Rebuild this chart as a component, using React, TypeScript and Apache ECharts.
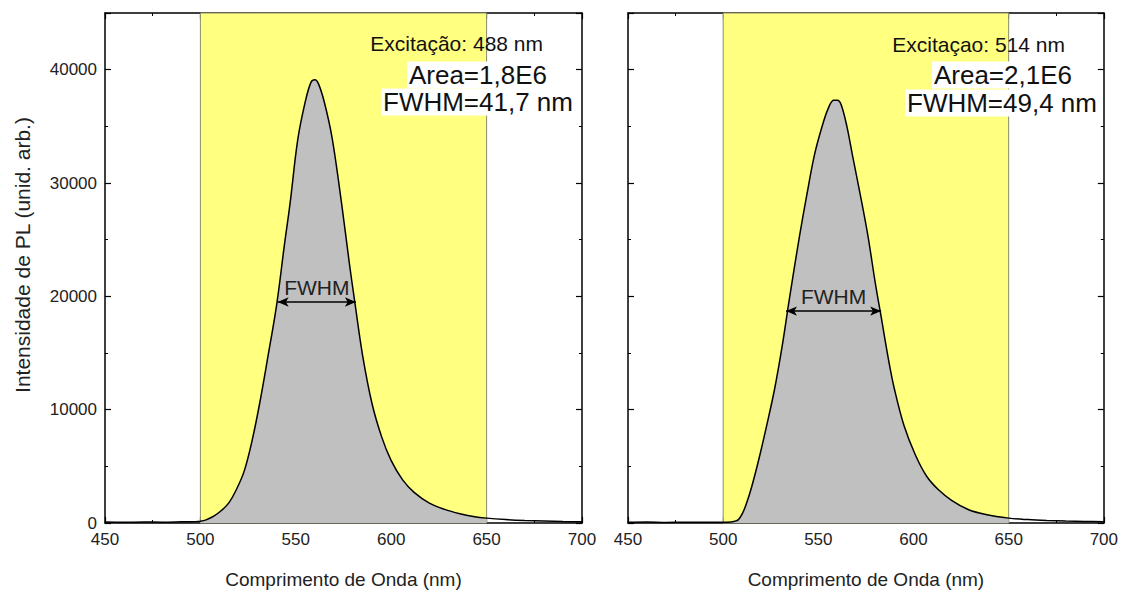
import React, { useEffect, useRef } from "react";
import * as echarts from "echarts";

// ---- Data ----
const wl488 = [450, 460, 470, 480, 490, 498, 500, 503, 507, 511, 515, 519, 523, 527, 531, 535, 540, 544, 547, 551, 555, 558, 560, 562, 565, 569, 574, 578, 581, 585, 590, 595, 600, 606, 612, 620, 628, 636, 643, 650, 660, 670, 680, 690, 700];
const pl488 = [80, 60, 90, 70, 100, 130, 150, 280, 600, 1100, 1800, 3000, 4600, 7200, 10500, 14300, 19300, 24500, 28200, 33800, 37200, 38900, 39100, 38700, 37100, 34000, 28200, 23000, 19400, 14800, 10500, 7600, 5500, 3800, 2700, 1750, 1200, 820, 580, 430, 300, 220, 170, 130, 110];

const wl514 = [450, 460, 470, 480, 490, 500, 504, 506, 508, 510, 512, 515, 519, 523, 527, 531, 535, 540, 544, 548, 552, 555, 558, 560, 562, 565, 568, 572, 576, 580, 583, 587, 590, 595, 601, 607, 613, 620, 629, 638, 650, 660, 670, 680, 690, 700];
const pl514 = [60, 80, 50, 70, 60, 70, 90, 150, 300, 800, 1600, 3200, 5800, 8700, 11800, 15600, 20000, 25200, 29000, 32500, 35000, 36500, 37300, 37300, 36900, 35000, 32400, 29000, 25400, 21100, 18200, 14300, 11800, 8600, 6000, 4100, 2950, 2000, 1170, 750, 430, 300, 220, 170, 140, 110];

const xTicks = [450, 500, 550, 600, 650, 700];
const integrationRange = [500, 650];
const fwhm488 = [540.5, 581.5, 19500];
const fwhm514 = [533, 583, 18700];

const texts488 = ["Excitação: 488 nm", "Area=1,8E6", "FWHM=41,7 nm"];
const texts514 = ["Excitaçao: 514 nm", "Area=2,1E6", "FWHM=49,4 nm"];
const xTitle = "Comprimento de Onda (nm)";
const yTitle = "Intensidade de PL (unid. arb.)";

const FONT = "'Liberation Sans', Arial, sans-serif";

export default function App() {
  const ref = useRef<HTMLDivElement>(null);

  useEffect(() => {
    if (!ref.current) return;
    const chart = echarts.init(ref.current, null, { renderer: "svg" });

    const grids = [
      { left: 105, top: 13, width: 477, bottom: 75 },
      { left: 628, top: 13, width: 477, bottom: 75 },
    ];

    const mkX = (gi: number, top: boolean) => ({
      type: "value",
      gridIndex: gi,
      position: top ? "top" : "bottom",
      min: xTicks[0],
      max: xTicks[xTicks.length - 1],
      interval: 50,
      name: top ? "" : xTitle,
      nameLocation: "middle",
      nameGap: 47,
      nameTextStyle: { fontFamily: FONT, fontSize: 19, color: "#222" },
      axisLine: { show: true, onZero: false, lineStyle: { color: "#000", width: 1.5 } },
      axisTick: { show: true, inside: true, length: 6, lineStyle: { color: "#000", width: 1.2 } },
      minorTick: { show: true, splitNumber: 2, length: 3, lineStyle: { color: "#000", width: 1 } },
      axisLabel: { show: !top, margin: 8, fontFamily: FONT, fontSize: 17, color: "#222", formatter: (v: number) => String(v) },
      splitLine: { show: false },
    });

    const mkY = (gi: number, right: boolean, labels: boolean) => ({
      type: "value",
      gridIndex: gi,
      position: right ? "right" : "left",
      min: 0,
      max: 45000,
      interval: 10000,
      axisLine: { show: true, onZero: false, lineStyle: { color: "#000", width: 1.5 } },
      axisTick: { show: true, inside: true, length: 6, lineStyle: { color: "#000", width: 1.2 } },
      minorTick: { show: true, splitNumber: 2, length: 3, lineStyle: { color: "#000", width: 1 } },
      axisLabel: {
        show: labels,
        showMaxLabel: false,
        margin: 8,
        fontFamily: FONT,
        fontSize: 17,
        color: "#222",
        formatter: (v: number) => String(v),
      },
      splitLine: { show: false },
    });

    const pairs = (xs: number[], ys: number[]) => xs.map((x, i) => [x, ys[i]]);
    const inRange = (xs: number[], ys: number[]) =>
      pairs(xs, ys).filter((p) => p[0] >= integrationRange[0] && p[0] <= integrationRange[1]);

    const mkSeries = (gi: number, xs: number[], ys: number[], fw: number[]) => [
      {
        type: "line",
        xAxisIndex: gi * 2,
        yAxisIndex: gi * 2,
        data: inRange(xs, ys),
        smooth: 0.35,
        showSymbol: false,
        lineStyle: { width: 0 },
        areaStyle: { color: "#C0C0C0", opacity: 1 },
        z: 2,
        markArea: {
          silent: true,
          z: 1,
          itemStyle: { color: "#FFFF80", opacity: 1, borderColor: "#8c8c6a", borderWidth: 1 },
          data: [[{ xAxis: integrationRange[0] }, { xAxis: integrationRange[1] }]],
        },
      },
      {
        type: "line",
        xAxisIndex: gi * 2,
        yAxisIndex: gi * 2,
        data: pairs(xs, ys),
        smooth: 0.35,
        showSymbol: false,
        lineStyle: { color: "#000", width: 1.5 },
        z: 3,
        markLine: {
          silent: true,
          symbol: ["arrow", "arrow"],
          symbolSize: [7, 11],
          lineStyle: { color: "#000", width: 1.5, type: "solid" },
          label: {
            show: true,
            position: "insideMiddleTop",
            formatter: "FWHM",
            distance: 4,
            fontFamily: FONT,
            fontSize: 21,
            color: "#222",
          },
          data: [[{ coord: [fw[0], fw[2]] }, { coord: [fw[1], fw[2]] }]],
        },
      },
    ];

    const mkText = (x: number, y: number, text: string, size: number, bg: boolean) => ({
      type: "text",
      x,
      y,
      z: 10,
      style: {
        text,
        fontFamily: FONT,
        fontSize: size,
        fill: "#111",
        align: "right",
        verticalAlign: "middle",
        backgroundColor: bg ? "#fff" : undefined,
        padding: bg ? [1, 2, 0, 2] : 0,
      },
    });

    chart.setOption({
      animation: false,
      backgroundColor: "#fff",
      grid: grids,
      xAxis: [mkX(0, false), mkX(0, true), mkX(1, false), mkX(1, true)],
      yAxis: [mkY(0, false, true), mkY(0, true, false), mkY(1, false, false), mkY(1, true, false)],
      series: [...mkSeries(0, wl488, pl488, fwhm488), ...mkSeries(1, wl514, pl514, fwhm514)],
      graphic: [
        {
          type: "text",
          x: 22,
          y: 255,
          rotation: Math.PI / 2,
          style: {
            text: yTitle,
            fontFamily: FONT,
            fontSize: 21,
            fill: "#222",
            align: "center",
            verticalAlign: "middle",
          },
        },
        mkText(543, 43, texts488[0], 21, false),
        mkText(549, 75, texts488[1], 26, true),
        mkText(575, 102, texts488[2], 26, true),
        mkText(1065, 44, texts514[0], 21, false),
        mkText(1074, 75, texts514[1], 26, true),
        mkText(1099, 103, texts514[2], 26, true),
      ],
    });

    return () => chart.dispose();
  }, []);

  return (
    <div
      ref={ref}
      style={{ position: "fixed", left: 0, top: 0, width: 1121, height: 598, background: "#fff" }}
    />
  );
}
